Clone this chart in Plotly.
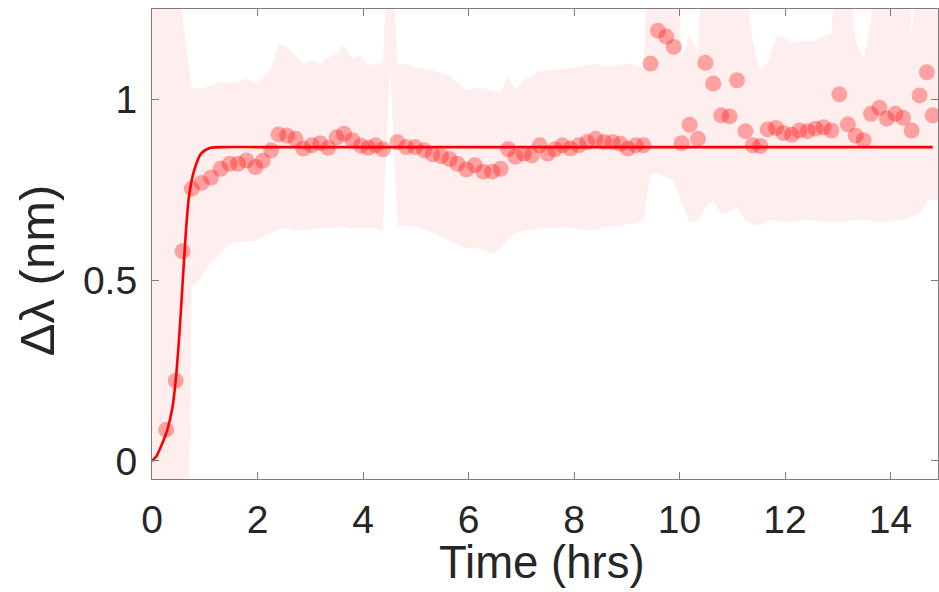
import plotly.graph_objects as go

# Measured wavelength shift (nm) versus time (hrs)
time_hrs = [0.27, 0.45, 0.58, 0.755, 0.94, 1.12, 1.30, 1.47, 1.63, 1.79, 1.96, 2.10, 2.26, 2.40,
            2.56, 2.72, 2.87, 3.03, 3.19, 3.34, 3.50, 3.64, 3.80, 3.96, 4.10, 4.24, 4.38,
            4.65, 4.82, 4.99, 5.16, 5.32, 5.48, 5.64, 5.79, 5.96, 6.12, 6.28, 6.45, 6.61,
            6.75, 6.89, 7.05, 7.20, 7.35, 7.50, 7.64, 7.78, 7.93, 8.09, 8.25, 8.41, 8.57,
            8.73, 8.88, 9.02, 9.17, 9.32, 9.45, 9.59, 9.75, 9.89, 10.04, 10.19, 10.35,
            10.49, 10.64, 10.79, 10.95, 11.09, 11.25, 11.39, 11.53, 11.67, 11.83, 11.97,
            12.13, 12.27, 12.43, 12.58, 12.73, 12.88, 13.03, 13.19, 13.34, 13.49, 13.63,
            13.79, 13.93, 14.09, 14.24, 14.40, 14.55, 14.69, 14.80]
shift_nm = [0.086, 0.222, 0.58, 0.753, 0.769, 0.784, 0.808, 0.822, 0.822, 0.831, 0.813, 0.83,
            0.859, 0.903, 0.90, 0.891, 0.864, 0.873, 0.879, 0.866, 0.895, 0.905, 0.887, 0.872,
            0.866, 0.873, 0.862, 0.882, 0.868, 0.868, 0.859, 0.848, 0.843, 0.835, 0.822,
            0.806, 0.818, 0.80, 0.80, 0.808, 0.862, 0.841, 0.85, 0.845, 0.873, 0.85, 0.862,
            0.873, 0.864, 0.873, 0.882, 0.891, 0.882, 0.882, 0.877, 0.864, 0.873, 0.873,
            1.099, 1.19, 1.174, 1.145, 0.879, 0.93, 0.891, 1.101, 1.044, 0.956, 0.953, 1.053,
            0.912, 0.873, 0.871, 0.917, 0.921, 0.907, 0.902, 0.914, 0.912, 0.919, 0.923,
            0.914, 1.014, 0.931, 0.90, 0.887, 0.96, 0.977, 0.947, 0.96, 0.949, 0.914, 1.011,
            1.075, 0.956]

# Spread envelope around the measurements
band_t = [0.0, 0.27, 0.45, 0.58, 0.755, 0.94, 1.12, 1.30, 1.47, 1.63, 1.79, 1.96, 2.10, 2.26,
          2.40, 2.56, 2.72, 2.87, 3.03, 3.19, 3.34, 3.50, 3.64, 3.80, 3.96, 4.10, 4.24, 4.38,
          4.51, 4.65, 4.82, 4.99, 5.16, 5.32, 5.48, 5.64, 5.79, 5.96, 6.12, 6.28, 6.45, 6.61,
          6.75, 6.89, 7.05, 7.20, 7.35, 7.50, 7.64, 7.78, 7.93, 8.09, 8.25, 8.41, 8.57, 8.73,
          8.88, 9.02, 9.17, 9.32, 9.45, 9.59, 9.75, 9.89, 10.04, 10.19, 10.35, 10.49, 10.64,
          10.79, 10.95, 11.09, 11.25, 11.39, 11.53, 11.67, 11.83, 11.97, 12.13, 12.27, 12.43,
          12.58, 12.73, 12.88, 13.03, 13.19, 13.34, 13.49, 13.63, 13.79, 13.93, 14.09, 14.24,
          14.40, 14.55, 14.69, 14.80, 14.90]
band_lo = [-1.5, -1.5, -1.5, -1.5, 0.48, 0.51, 0.55, 0.575, 0.60, 0.605, 0.607, 0.61, 0.62,
           0.63, 0.64, 0.645, 0.638, 0.638, 0.643, 0.643, 0.645, 0.647, 0.647, 0.643, 0.643,
           0.643, 0.643, 0.638, 1.10, 0.65, 0.65, 0.647, 0.64, 0.63, 0.62, 0.61, 0.60, 0.588,
           0.59, 0.582, 0.574, 0.588, 0.615, 0.63, 0.638, 0.64, 0.643, 0.643, 0.645, 0.647,
           0.645, 0.642, 0.638, 0.64, 0.647, 0.647, 0.65, 0.655, 0.657, 0.666, 0.795, 0.795,
           0.785, 0.772, 0.712, 0.661, 0.666, 0.70, 0.721, 0.684, 0.69, 0.702, 0.666, 0.655,
           0.652, 0.666, 0.663, 0.662, 0.661, 0.665, 0.666, 0.666, 0.664, 0.662, 0.661, 0.664,
           0.666, 0.666, 0.664, 0.661, 0.663, 0.666, 0.667, 0.675, 0.684, 0.72, 0.721, 0.721]
band_hi = [2.5, 2.5, 2.5, 1.22, 1.03, 1.03, 1.04, 1.048, 1.045, 1.048, 1.057, 1.043, 1.06,
           1.085, 1.154, 1.145, 1.12, 1.099, 1.108, 1.099, 1.115, 1.13, 1.149, 1.112, 1.122,
           1.094, 1.10, 1.099, 1.6, 1.10, 1.096, 1.089, 1.085, 1.08, 1.072, 1.066, 1.045, 1.025,
           1.03, 1.032, 1.022, 1.02, 1.066, 1.025, 1.055, 1.065, 1.08, 1.08, 1.083, 1.085,
           1.087, 1.089, 1.095, 1.099, 1.089, 1.093, 1.097, 1.099, 1.092, 1.089, 1.6, 1.6,
           1.6, 1.6, 1.11, 1.18, 1.126, 1.6, 1.6, 1.6, 1.6, 1.6, 1.3, 1.16, 1.08, 1.10, 1.177,
           1.172, 1.155, 1.158, 1.163, 1.163, 1.175, 1.18, 1.6, 1.4, 1.16, 1.112, 1.22, 1.6,
           1.6, 1.6, 1.6, 1.18, 1.4, 1.6, 1.6, 1.6]

# Fitted growth curve
fit_t = [0.0, 0.08, 0.17, 0.29, 0.39, 0.45, 0.52, 0.58, 0.64, 0.70, 0.80, 0.93, 1.11, 1.37,
         2.0, 14.80]
fit_y = [0.0, 0.012, 0.04, 0.086, 0.15, 0.224, 0.353, 0.491, 0.629, 0.73, 0.804, 0.85, 0.866,
         0.868, 0.868, 0.868]

x_ticks = [0, 2, 4, 6, 8, 10, 12, 14]
y_ticks = [0, 0.5, 1]
y_tick_text = ["0", "0.5", "1"]

FONT = "Liberation Sans, Arial, Helvetica, sans-serif"
TEXT = "rgb(38,38,38)"
AXIS = "rgb(125,125,125)"

fig = go.Figure()

fig.add_trace(go.Scatter(
    x=band_t + band_t[::-1],
    y=band_hi + band_lo[::-1],
    fill="toself",
    fillcolor="rgba(255,0,0,0.065)",
    line=dict(width=0),
    mode="lines",
    hoverinfo="skip",
    showlegend=False,
))

fig.add_trace(go.Scatter(
    x=time_hrs, y=shift_nm,
    mode="markers",
    marker=dict(size=16, color="rgba(255,0,0,0.32)", line=dict(width=0)),
    cliponaxis=True,
    showlegend=False,
))

fig.add_trace(go.Scatter(
    x=fit_t, y=fit_y,
    mode="lines",
    line=dict(color="rgb(255,0,0)", width=2.6, shape="spline", smoothing=0.7),
    showlegend=False,
))

axis_common = dict(
    showline=True, linecolor=AXIS, linewidth=1.2, mirror="ticks",
    ticks="inside", ticklen=7, tickwidth=1.2, tickcolor=AXIS,
    showgrid=False, zeroline=False,
    tickfont=dict(family=FONT, size=39, color=TEXT),
)

fig.update_xaxes(range=[0, 14.9], tickvals=x_ticks,
                 ticktext=[str(v) for v in x_ticks], ticklabelstandoff=6, **axis_common)
fig.update_yaxes(range=[-0.05, 1.25], tickvals=y_ticks, ticktext=y_tick_text,
                 ticklabelstandoff=6, **axis_common)

fig.add_annotation(text="Time (hrs)", xref="paper", yref="paper",
                   x=0.4968, y=-0.1787, xanchor="center", yanchor="middle",
                   showarrow=False, font=dict(family=FONT, size=45.5, color=TEXT))
fig.add_annotation(text="Δλ (nm)", xref="paper", yref="paper",
                   x=-0.146, y=0.4447, xanchor="center", yanchor="middle",
                   textangle=-90, showarrow=False,
                   font=dict(family=FONT, size=49, color=TEXT))

fig.update_layout(
    width=939, height=592,
    margin=dict(l=152, r=1, t=9, b=113),
    plot_bgcolor="white", paper_bgcolor="white",
)

fig.write_html("out.html")
